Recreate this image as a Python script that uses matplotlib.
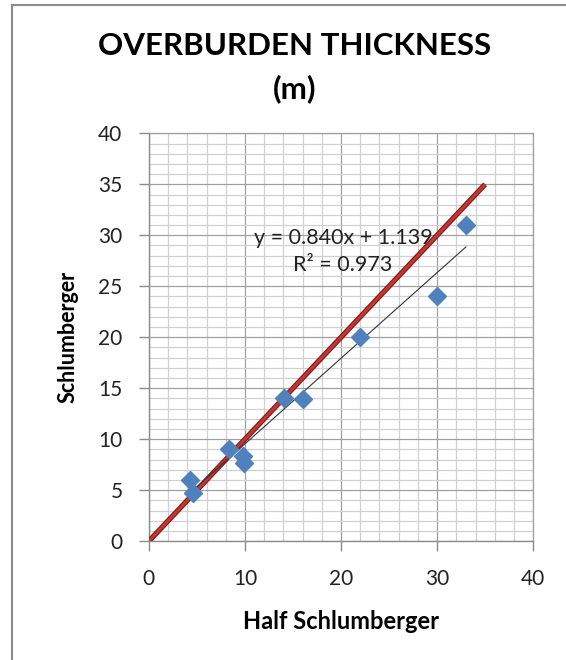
import numpy as np
import matplotlib.pyplot as plt
import matplotlib.patheffects as pe
from matplotlib.ticker import MultipleLocator

plt.rcParams['font.family'] = ['Lato', 'DejaVu Sans']

# data
half_schlumberger = [4.3, 4.6, 8.3, 9.85, 9.9, 14.1, 16.0, 22.0, 30.0, 33.0]
schlumberger = [6.0, 4.7, 9.0, 8.4, 7.7, 14.0, 13.9, 20.0, 24.0, 31.0]
one_to_one = [0, 35]
slope = 0.840
intercept = 1.139
r2 = 0.973

fig = plt.figure(figsize=(5.66, 6.6), dpi=100)
ax = fig.add_axes([0.263, 0.180, 0.679, 0.618])

ax.set_xlim(0, 40)
ax.set_ylim(0, 40)
ax.xaxis.set_major_locator(MultipleLocator(10))
ax.xaxis.set_minor_locator(MultipleLocator(2))
ax.yaxis.set_major_locator(MultipleLocator(5))
ax.yaxis.set_minor_locator(MultipleLocator(1))
ax.grid(which='minor', color='#d0d0d0', lw=0.9)
ax.grid(which='major', color='#a0a0a0', lw=0.9)
ax.set_axisbelow(True)

for s in ['top', 'right']:
    ax.spines[s].set_color('#a0a0a0')
    ax.spines[s].set_linewidth(0.9)
for s in ['left', 'bottom']:
    ax.spines[s].set_color('#8c8c8c')
    ax.spines[s].set_linewidth(1.0)

ax.tick_params(which='major', direction='out', length=7, width=1, color='#8c8c8c',
               labelsize=15, labelcolor='#222222', pad=12)
ax.tick_params(which='minor', length=0)
ax.tick_params(axis='x', pad=13)

# 1:1 line
ax.plot(one_to_one, one_to_one, color='#cc3430', lw=2.0, solid_capstyle='butt',
        path_effects=[pe.Stroke(linewidth=3.8, foreground='#7a2020'), pe.Normal()], zorder=3)

# linear trendline over the data range
xs = np.array([min(half_schlumberger), max(half_schlumberger)])
ax.plot(xs, slope * xs + intercept, color='#333333', lw=0.8, zorder=3)

ax.plot(half_schlumberger, schlumberger, 'D', color='#4f81bd', ms=9, mec='#4f81bd',
        zorder=4)

ax.text(20.2, 29.7, 'y = 0.840x + 1.139', fontsize=15.5, ha='center', va='center',
        color='#222222', zorder=5)
ax.text(20.2, 27.1, 'R² = 0.973', fontsize=15.5, ha='center', va='center',
        color='#222222', zorder=5)

ax.set_xlabel('Half Schlumberger', fontsize=17, fontweight='bold', labelpad=15)
ax.set_ylabel('Schlumberger', fontsize=15.5, fontweight='bold', labelpad=14)

fig.text(0.52, 1 - 46 / 660, 'OVERBURDEN THICKNESS', fontsize=22.5, fontweight='bold',
         ha='center', va='center')
fig.text(0.52, 1 - 89 / 660, '(m)', fontsize=22.5, fontweight='bold',
         ha='center', va='center')

# chart border (left and top visible)
fig.add_artist(plt.Line2D([12 / 566, 12 / 566], [0, 1 - 5 / 660], color='#8c8c8c', lw=1.5))
fig.add_artist(plt.Line2D([12 / 566, 1], [1 - 5 / 660, 1 - 5 / 660], color='#8c8c8c', lw=1.5))

fig.savefig('out.png', dpi=100)
